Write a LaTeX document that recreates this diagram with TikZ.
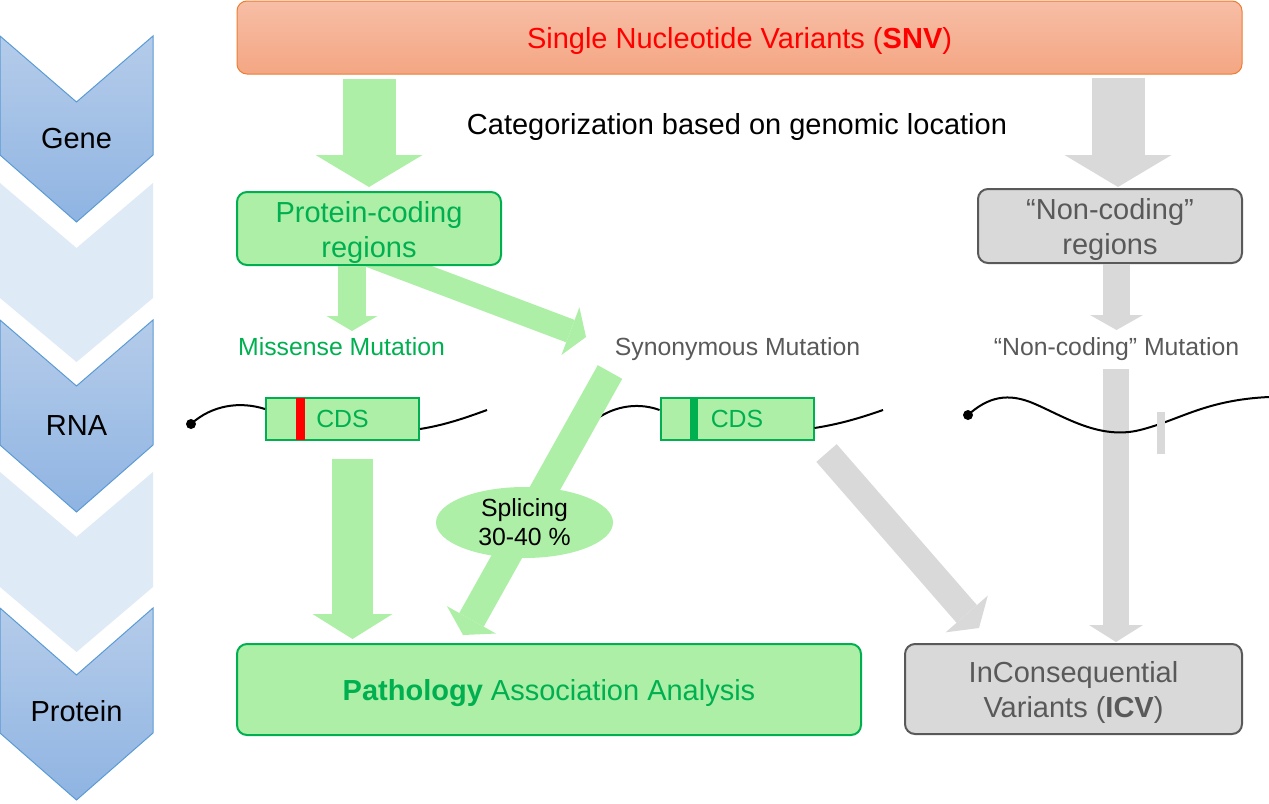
\documentclass[tikz,border=0pt]{standalone}
\usepackage{fontspec}
\setmainfont{Liberation Sans}
\usepackage{xcolor}
\usepackage{tikz}
\usetikzlibrary{arrows.meta,calc,shapes.geometric}

\definecolor{leafgreen}{RGB}{173,239,166}
\definecolor{darkgreen}{RGB}{0,176,80}
\definecolor{ashgrey}{RGB}{217,217,217}
\definecolor{slategrey}{RGB}{89,89,89}
\definecolor{snvtop}{RGB}{247,190,166}
\definecolor{snvbottom}{RGB}{244,166,131}
\definecolor{snvline}{RGB}{237,125,49}
\definecolor{chevtop}{RGB}{181,204,234}
\definecolor{chevbottom}{RGB}{143,180,226}
\definecolor{chevline}{RGB}{91,155,213}
\definecolor{chevpale}{RGB}{222,234,246}

% box text sits a little low in its box
\newcommand{\sinktext}[1]{\raisebox{-3pt}[\height][\depth]{\begin{tabular}{@{}c@{}}#1\end{tabular}}}

\pgfdeclarelayer{back}
\pgfsetlayers{back,main}

\begin{document}
\begin{tikzpicture}[x=0.75pt,y=0.75pt,yscale=-1,xscale=1,
  hugefont/.style={font=\fontsize{21.75}{26.25}\selectfont},
  plainfont/.style={font=\fontsize{18.6}{21.75}\selectfont},
  chevron/.style={draw=chevline, line width=0.75pt, top color=chevtop, bottom color=chevbottom},
  region/.style={line width=1.5pt, rounded corners=7.5pt, align=center, inner sep=0pt, hugefont},
  greenregion/.style={region, draw=darkgreen, fill=leafgreen, text=darkgreen},
  greyregion/.style={region, draw=slategrey, fill=ashgrey, text=slategrey},
  cds/.style={draw=darkgreen, fill=leafgreen, line width=1.5pt, text=darkgreen, plainfont, minimum width=114.75pt, minimum height=31.5pt, inner sep=0pt},
  flow/.style n args={4}{#1, line width=#2, -{Triangle[width=#3, length=#4, line width=0pt]}},
  wire/.style={line width=1.5pt, black}]
\useasboundingbox (0,0) rectangle (1269,803);

%Chevrons: Gene, RNA, Protein
\draw[chevron] (0,36) -- (76.5,102) -- (153,36) -- (153,155) -- (76.5,222) -- (0,155) -- cycle;
\fill[chevpale] (0,183) -- (76.5,248) -- (153,183) -- (153,298) -- (76.5,362) -- (0,298) -- cycle;
\draw[chevron] (0,320) -- (76.5,386) -- (153,320) -- (153,445) -- (76.5,512) -- (0,445) -- cycle;
\fill[chevpale] (0,472) -- (76.5,537) -- (153,472) -- (153,587) -- (76.5,652) -- (0,587) -- cycle;
\draw[chevron] (0,608) -- (76.5,675) -- (153,608) -- (153,733) -- (76.5,800) -- (0,733) -- cycle;

% Text Node
\node[hugefont, anchor=base] (gene) at (76.5,148) {Gene};
% Text Node
\node[hugefont, anchor=base] (rna) at (76.5,435) {RNA};
% Text Node
\node[hugefont, anchor=base] (protein) at (76.5,721) {Protein};

%Boxes
\node[draw=snvline, line width=0.75pt, rounded corners=7.5pt, top color=snvtop, bottom color=snvbottom, minimum width=753.75pt, minimum height=54.75pt, inner sep=0pt, text=red, hugefont] (snv) at (739.5,37.5) {\sinktext{Single Nucleotide Variants (\textbf{SNV})}};
\node[greenregion, minimum width=198pt, minimum height=54.75pt] (protcod) at (369,228.5) {\sinktext{Protein-coding\\regions}};
\node[greyregion, minimum width=198pt, minimum height=55.5pt] (noncod) at (1110,226) {\sinktext{“Non-coding”\\regions}};
\node[greenregion, minimum width=468pt, minimum height=68.25pt] (patho) at (549,689.5) {\sinktext{\textbf{Pathology} Association Analysis}};
\node[greyregion, minimum width=252.75pt, minimum height=67.5pt] (icv) at (1073.5,689) {\sinktext{InConsequential\\Variants (\textbf{ICV})}};

% Text Node
\node[hugefont, anchor=base] (categ) at (737,134) {Categorization based on genomic location};
% Text Node
\node[plainfont, anchor=base, text=darkgreen] (missense) at (341.5,355) {Missense Mutation};
% Text Node
\node[plainfont, anchor=base, text=slategrey] (synon) at (737.5,355) {Synonymous Mutation};
% Text Node
\node[plainfont, anchor=base, text=slategrey] (noncodmut) at (1116.5,355) {“Non-coding” Mutation};

%CDS with the mutated site
\node[cds] (cdsA) at (342.5,419) {CDS};
\fill[red] ($(cdsA.north west)+(31,1)$) rectangle ($(cdsA.south west)+(40,-1)$);
\node[cds] (cdsB) at (737,419) {CDS};
\fill[darkgreen] ($(cdsB.north west)+(30,1)$) rectangle ($(cdsB.south west)+(38,-1)$);

%Block arrows
\draw[flow={leafgreen}{39.75pt}{80.25pt}{24pt}] ($(protcod.north |- snv.south)+(0,4)$) -- ($(protcod.north)+(0,-4)$);
\draw[flow={ashgrey}{39.75pt}{80.25pt}{24pt}] ($(noncod.north |- snv.south)+(8,3)$) -- ($(noncod.north)+(8,-1)$);
\draw[flow={leafgreen}{21pt}{38.25pt}{11.25pt}] ($(protcod.south)+(-17,0)$) -- ($(protcod.south)+(-17,65)$);
\begin{pgfonlayer}{back}
\draw[flow={leafgreen}{18pt}{38.25pt}{12.5pt}] ($(protcod.south)+(-11,-15)$) -- ($(synon.base)+(-151.5,-18)$);
\end{pgfonlayer}
\draw[flow={ashgrey}{20.25pt}{39.75pt}{11.25pt}] ($(noncod.south)+(6.5,0)$) -- ($(noncod.south)+(6.5,66)$);
\draw[flow={leafgreen}{30.75pt}{60pt}{18.75pt}] ($(cdsA.south)+(10,18)$) -- ($(patho.north -| cdsA.south)+(10,-4)$);
\draw[flow={ashgrey}{20.25pt}{42pt}{14pt}] ($(cdsB.south east)+(12,12)$) -- ($(icv.north west)+(75,-15)$);
\draw[flow={ashgrey}{19.5pt}{40.5pt}{12.75pt}] ($(noncodmut.base)+(-0.5,14)$) -- ($(icv.north)+(42.5,-1)$);

%RNA strands
\coordinate (capA) at (191,424);
\coordinate (tailA) at (487,410);
\fill (capA) circle[radius=3.75pt];
\draw[wire] (capA) .. controls (212,405) and (240,401) .. ($(cdsA.west)+(0,-10)$);
\draw[wire] ($(cdsA.east)+(0,10)$) .. controls (445,425) and (465,418) .. (tailA);
\coordinate (headB) at (594,421);
\coordinate (tailB) at (883,410);
\draw[wire] (headB) .. controls (610,408) and (635,401) .. ($(cdsB.west)+(0,-9)$);
\draw[wire] ($(cdsB.east)+(0,9)$) .. controls (840,424) and (860,418) .. (tailB);
\coordinate (capC) at (968,415);
\coordinate (tailC) at (1269,397);
\fill (capC) circle[radius=3.75pt];
\draw[wire] (capC) .. controls (988,397) and (1008,392) .. (1035,404) .. controls (1065,417) and (1100,440) .. (1140,430) .. controls (1180,420) and (1205,400) .. (tailC);
\fill[ashgrey] (1157,412) rectangle (1165,454);

%Splicing
\draw[flow={leafgreen}{21pt}{42pt}{13pt}] ($(synon.base)+(-127.5,17)$) -- ($(patho.north)+(-86,-8)$);
\node[ellipse, fill=leafgreen, minimum width=132.75pt, minimum height=53.25pt, inner sep=0pt, plainfont, align=center] (splice) at (524.5,522.5) {Splicing\\30-40 \%};
\end{tikzpicture}
\end{document}
